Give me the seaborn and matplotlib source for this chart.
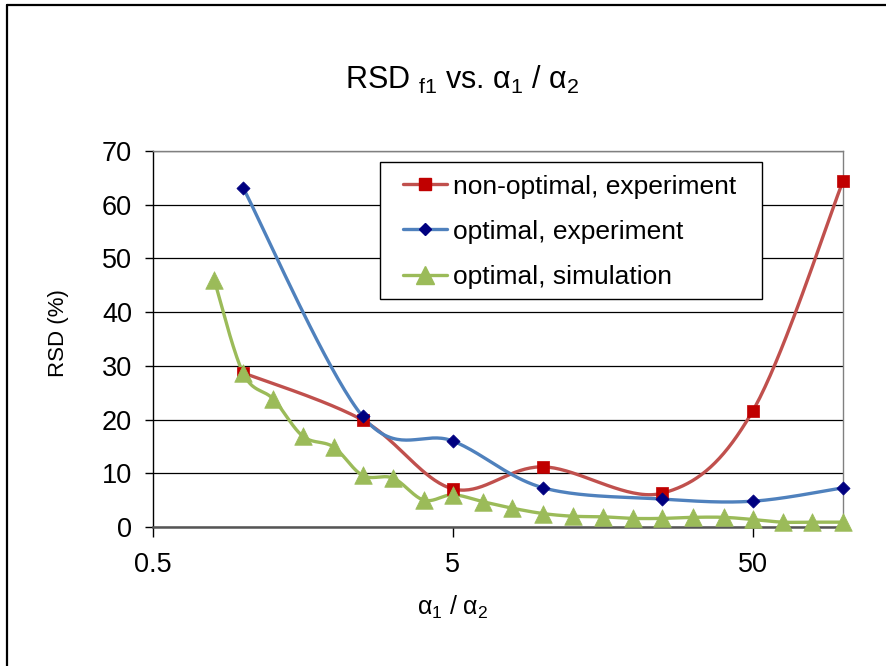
import numpy as np
import pandas as pd
import matplotlib
matplotlib.use("Agg")
import matplotlib.pyplot as plt
import seaborn as sns
from matplotlib.lines import Line2D
from matplotlib.patches import Rectangle
from matplotlib.ticker import NullLocator

# ---------------- data ----------------
ratio_exp = [1.0, 2.5, 5.0, 10.0, 25.0, 50.0, 100.0]
rsd_nonopt_exp = [28.7, 19.9, 7.1, 11.2, 6.3, 21.6, 64.4]
rsd_opt_exp = [63.1, 20.6, 16.0, 7.3, 5.2, 4.8, 7.3]

ratio_sim = [0.8, 1.0, 1.26, 1.58, 2.0, 2.5, 3.16, 4.0, 5.0, 6.3, 7.9,
             10.0, 12.6, 15.8, 20.0, 25.0, 31.6, 40.0, 50.0, 63.0, 79.0, 100.0]
rsd_opt_sim = [46.0, 28.6, 23.8, 16.9, 14.9, 9.6, 9.1, 5.0, 6.0, 4.7, 3.5,
               2.5, 2.0, 1.9, 1.6, 1.6, 1.8, 1.8, 1.4, 0.9, 0.9, 0.9]

series_names = ["non-optimal, experiment", "optimal, experiment", "optimal, simulation"]
x_ticks = [0.5, 5, 50]
x_tick_labels = ["0.5", "5", "50"]
y_ticks = [0, 10, 20, 30, 40, 50, 60, 70]

# ---------------- style ----------------
sns.set_style("white")
plt.rcParams["font.family"] = ["Liberation Sans", "DejaVu Sans"]
plt.rcParams["mathtext.fontset"] = "custom"
plt.rcParams["mathtext.rm"] = "Liberation Sans"
plt.rcParams["mathtext.it"] = "Liberation Sans:italic"
plt.rcParams["text.color"] = "black"
plt.rcParams["xtick.color"] = "black"
plt.rcParams["ytick.color"] = "black"
plt.rcParams["xtick.labelcolor"] = "black"
plt.rcParams["ytick.labelcolor"] = "black"

line_colors = {"non-optimal, experiment": "#C0504D",
               "optimal, experiment": "#4F81BD",
               "optimal, simulation": "#9BBB59"}
marker_colors = {"non-optimal, experiment": "#C00000",
                 "optimal, experiment": "#000080",
                 "optimal, simulation": "#9BBB59"}
marker_shapes = {"non-optimal, experiment": "s",
                 "optimal, experiment": "D",
                 "optimal, simulation": "^"}
marker_sizes = {"non-optimal, experiment": 80,
                "optimal, experiment": 45,
                "optimal, simulation": 160}


def smooth_path(x, y, n=40):
    """Excel-style smoothed line (uniform Catmull-Rom / Bezier in log-x space)."""
    lx = np.log10(np.asarray(x, float))
    yy = np.asarray(y, float)
    pts = np.column_stack([lx, yy])
    out = [pts[0]]
    m = len(pts)
    t = np.linspace(0, 1, n)[1:, None]
    for i in range(m - 1):
        p0 = pts[max(i - 1, 0)]
        p1 = pts[i]
        p2 = pts[i + 1]
        p3 = pts[min(i + 2, m - 1)]
        c1 = p1 + (p2 - p0) / 6.0
        c2 = p2 - (p3 - p1) / 6.0
        seg = ((1 - t) ** 3) * p1 + 3 * ((1 - t) ** 2) * t * c1 + 3 * (1 - t) * (t ** 2) * c2 + (t ** 3) * p2
        out.extend(seg)
    out = np.array(out)
    return 10 ** out[:, 0], out[:, 1]


raw = {
    "non-optimal, experiment": (ratio_exp, rsd_nonopt_exp),
    "optimal, experiment": (ratio_exp, rsd_opt_exp),
    "optimal, simulation": (ratio_sim, rsd_opt_sim),
}

curve_frames = []
point_frames = []
for name in series_names:
    xs, ys = raw[name]
    sx, sy = smooth_path(xs, ys)
    curve_frames.append(pd.DataFrame({"ratio": sx, "rsd": sy, "series": name}))
    point_frames.append(pd.DataFrame({"ratio": xs, "rsd": ys, "series": name}))
curves = pd.concat(curve_frames, ignore_index=True)
points = pd.concat(point_frames, ignore_index=True)

# ---------------- figure ----------------
W, H = 887, 666
fig = plt.figure(figsize=(8.87, 6.66), dpi=100)
ax_l, ax_r, ax_t, ax_b = 153, 843, 151, 527
ax = fig.add_axes([ax_l / W, 1 - ax_b / H, (ax_r - ax_l) / W, (ax_b - ax_t) / H])

ax.set_xscale("log")
ax.set_xlim(0.5, 100)
ax.set_ylim(0, 70)

ax.yaxis.grid(True, color="black", linewidth=0.9)
ax.set_axisbelow(True)

sns.lineplot(data=curves, x="ratio", y="rsd", hue="series", palette=line_colors,
             hue_order=series_names, sort=False, estimator=None, units="series",
             linewidth=2.4, legend=False, ax=ax, zorder=3)

for name in series_names:
    sub = points[points["series"] == name]
    sns.scatterplot(data=sub, x="ratio", y="rsd", color=marker_colors[name],
                    marker=marker_shapes[name], s=marker_sizes[name],
                    edgecolor=marker_colors[name], linewidth=0.5,
                    legend=False, ax=ax, zorder=4, clip_on=False)

ax.set_xticks(x_ticks)
ax.set_xticklabels(x_tick_labels)
ax.xaxis.set_minor_locator(NullLocator())
ax.set_yticks(y_ticks)
ax.set_xlabel("")
ax.set_ylabel("")

ax.tick_params(axis="y", direction="out", length=6, width=1, color="black",
               labelsize=19.5, pad=9, left=True, labelcolor="black")
ax.tick_params(axis="x", direction="out", length=7, width=1, color="black",
               labelsize=19.5, pad=11, bottom=True, labelcolor="black")

for side in ["top", "right"]:
    ax.spines[side].set_color("#808080")
    ax.spines[side].set_linewidth(1.0)
ax.spines["left"].set_color("black")
ax.spines["left"].set_linewidth(1.0)
ax.spines["bottom"].set_color("#555555")
ax.spines["bottom"].set_linewidth(1.8)


def ax_frac(px, py):
    return (px - ax_l) / (ax_r - ax_l), (ax_b - py) / (ax_b - ax_t)


# legend frame (drawn separately so the padding matches the reference)
lx0, ly1 = ax_frac(380, 299)
lx1, ly0 = ax_frac(762, 162)
frame = Rectangle((lx0, ly1), lx1 - lx0, ly0 - ly1, transform=ax.transAxes,
                  facecolor="white", edgecolor="black", linewidth=1.0, zorder=4.5)
ax.add_patch(frame)

handles = [Line2D([0], [0], color=line_colors[n], lw=2.4, marker=marker_shapes[n],
                  markersize={"s": 9, "D": 6.5, "^": 12.5}[marker_shapes[n]],
                  markerfacecolor=marker_colors[n], markeredgecolor=marker_colors[n])
           for n in series_names]
leg = ax.legend(handles, series_names, loc="upper left",
                bbox_to_anchor=ax_frac(392, 164),
                borderaxespad=0, frameon=False, fontsize=19,
                handlelength=1.68, handletextpad=0.25, labelspacing=0.8,
                borderpad=0.4, labelcolor="black")
leg.set_zorder(5)

# titles / labels
fig.text(462 / W, 1 - 80 / H, r"RSD $_{\mathrm{f1}}$ vs. α$_{\mathrm{1}}$ / α$_{\mathrm{2}}$",
         ha="center", va="center", fontsize=22, color="black")
fig.text(59 / W, 1 - 333 / H, "RSD (%)", rotation=90, ha="center", va="center",
         fontsize=16, color="black")
fig.text(453 / W, 1 - 607 / H, r"α$_{\mathrm{1}}$ / α$_{\mathrm{2}}$",
         ha="center", va="center", fontsize=18, color="black")

# outer frame (top and left edges visible in the reference)
fig.add_artist(Line2D([7 / W, 7 / W], [0, 1 - 5 / H], transform=fig.transFigure,
                      color="black", lw=1.6))
fig.add_artist(Line2D([7 / W, 1], [1 - 5 / H, 1 - 5 / H], transform=fig.transFigure,
                      color="black", lw=1.6))

fig.savefig("out.png", dpi=100, facecolor="white")
